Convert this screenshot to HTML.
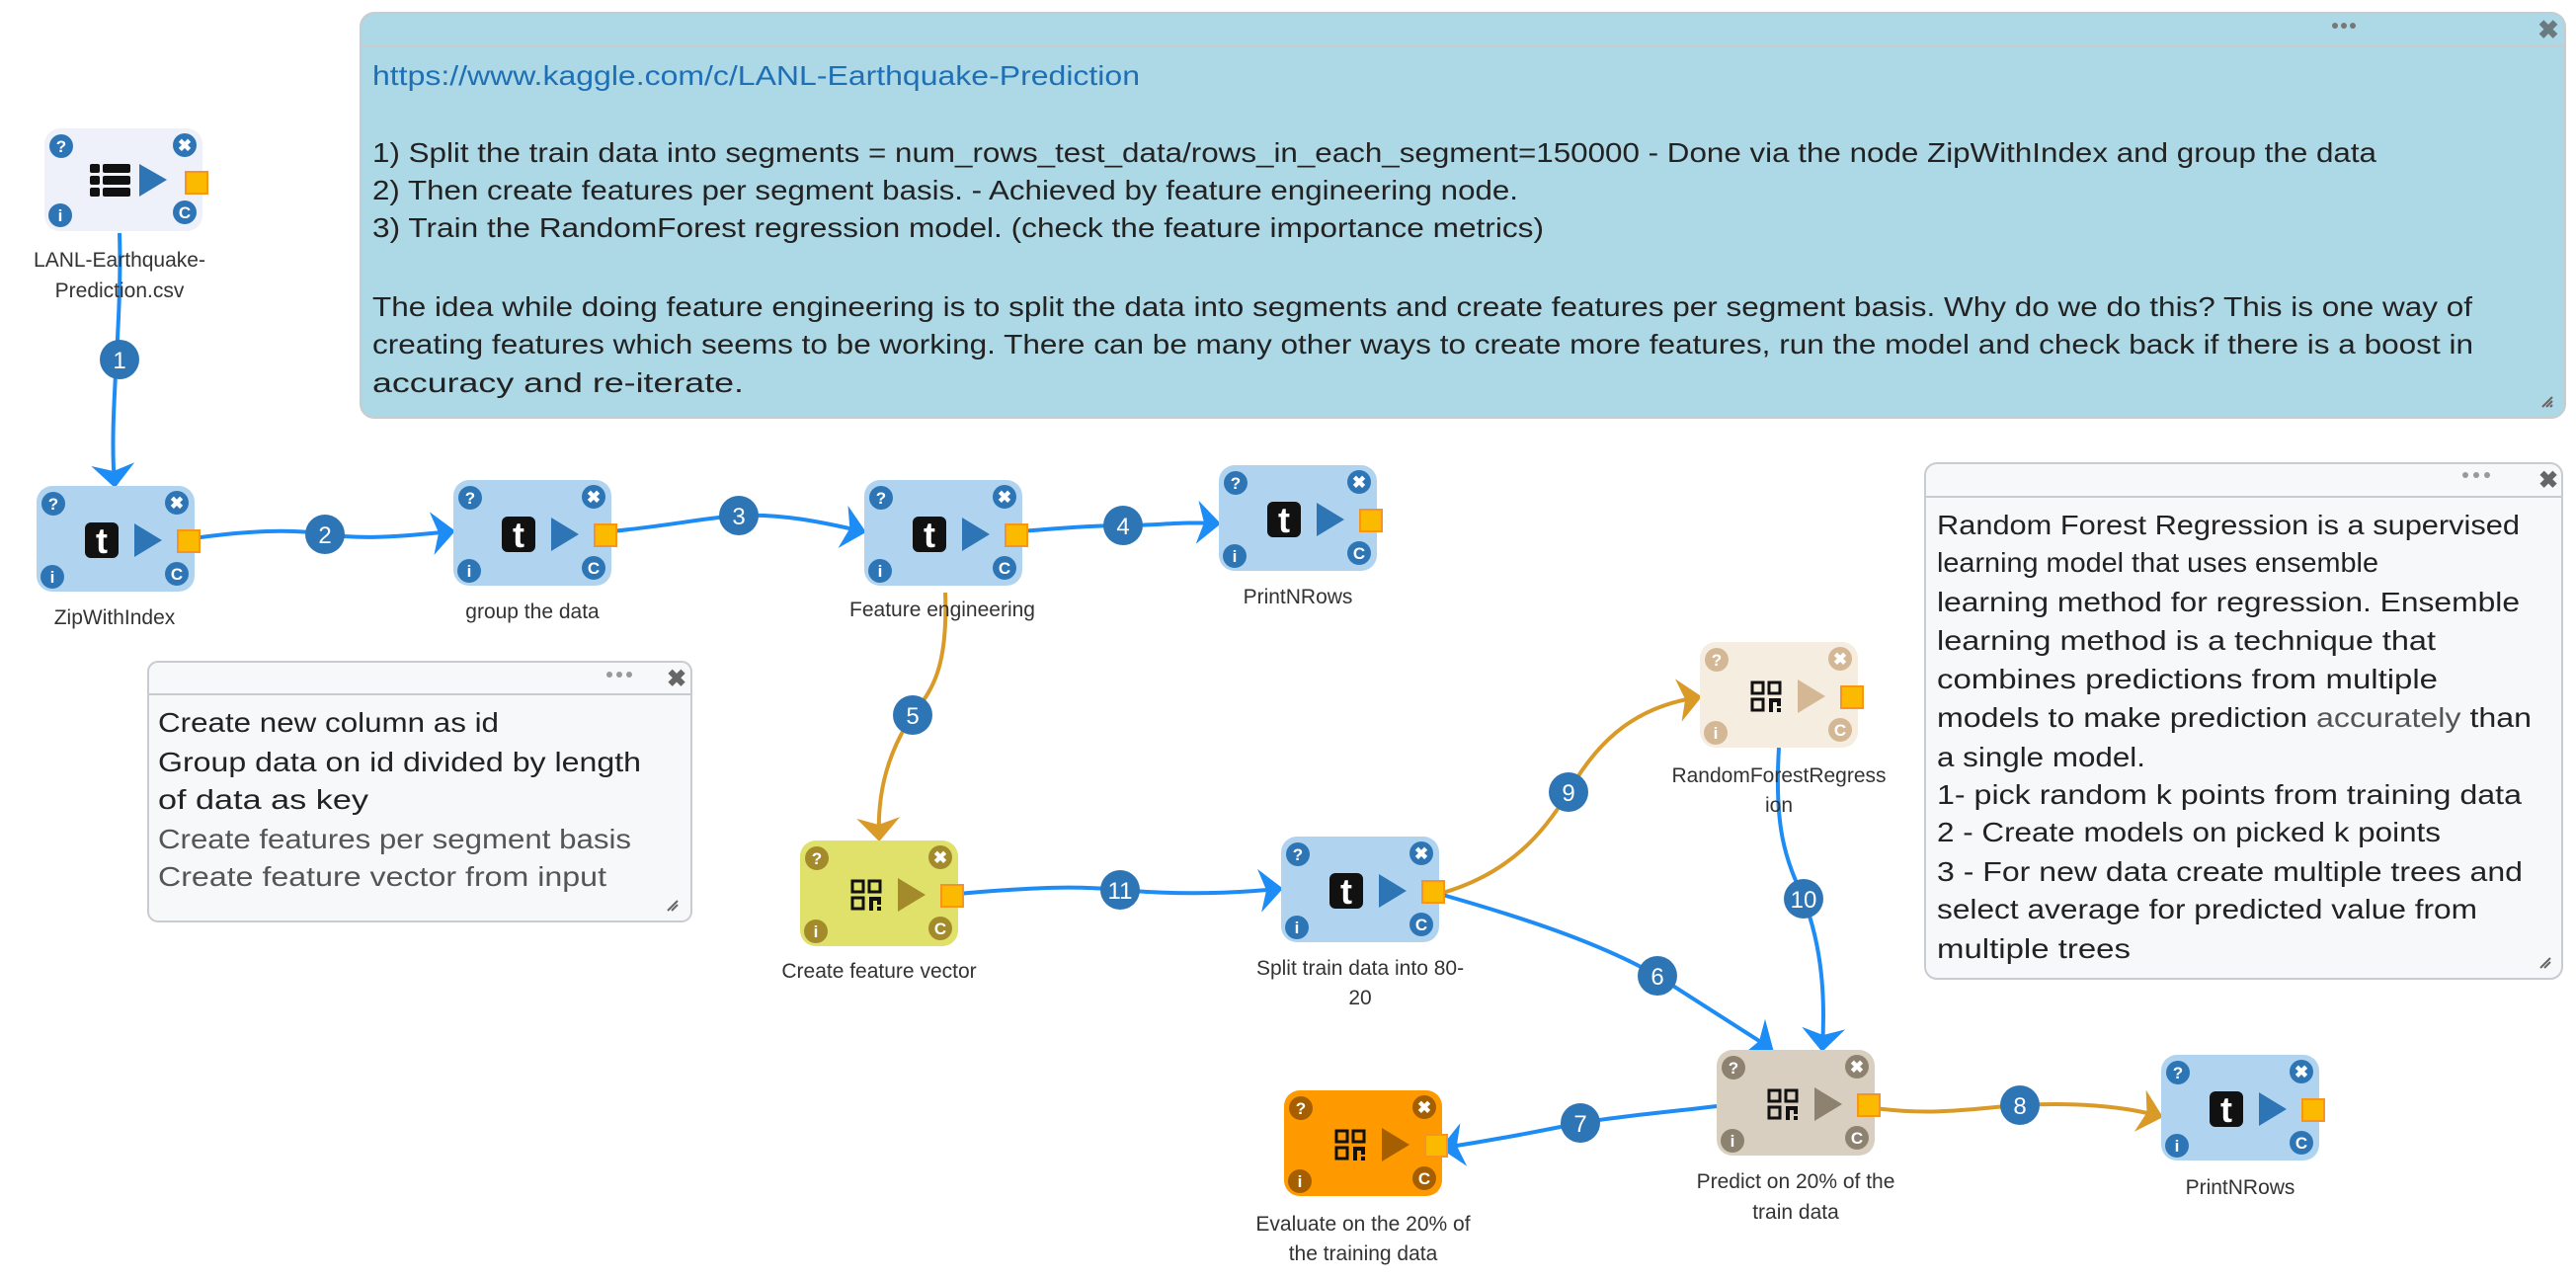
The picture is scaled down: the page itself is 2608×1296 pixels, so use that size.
<!DOCTYPE html>
<html><head><meta charset="utf-8"><style>
html,body{margin:0;padding:0;background:#fff;width:2608px;height:1296px;overflow:hidden}
svg{display:block;font-family:"Liberation Sans",sans-serif}
.lbl{font-size:21px;fill:#333;text-anchor:middle}
.ct{font-size:28px;fill:#222}
.ic{font-size:17px;fill:#fff;font-weight:bold;text-anchor:middle}
.bd{font-size:24px;fill:#fff;text-anchor:middle}
</style></head><body>
<svg width="2608" height="1296" viewBox="0 0 2608 1296" xmlns="http://www.w3.org/2000/svg">
<defs>
<marker id="ab" markerUnits="userSpaceOnUse" markerWidth="24" markerHeight="44" refX="20" refY="22" orient="auto"><path d="M0,0 L24,22 L0,44 L7,22 z" fill="#1e8cf5"/></marker>
<marker id="ag" markerUnits="userSpaceOnUse" markerWidth="24" markerHeight="44" refX="20" refY="22" orient="auto"><path d="M0,0 L24,22 L0,44 L7,22 z" fill="#d99a27"/></marker>
</defs>

<!-- Top comment -->
<rect x="365" y="13" width="2232" height="410" rx="14" fill="#add8e6" stroke="#c8ccd0" stroke-width="2"/>
<line x1="366" y1="47" x2="2596" y2="47" stroke="#c8ccd0" stroke-width="2"/>
<circle cx="2364" cy="26" r="3" fill="#777"/><circle cx="2373" cy="26" r="3" fill="#777"/><circle cx="2382" cy="26" r="3" fill="#777"/>
<text x="2580" y="39" font-size="26" font-weight="bold" fill="#6b7a80" text-anchor="middle">✖</text>
<text class="ct" x="377" y="86" fill="#1f6fb5" style="fill:#1f6fb5" textLength="777" lengthAdjust="spacingAndGlyphs">https://www.kaggle.com/c/LANL-Earthquake-Prediction</text>
<text class="ct" x="377" y="164" textLength="2029" lengthAdjust="spacingAndGlyphs">1) Split the train data into segments = num_rows_test_data/rows_in_each_segment=150000 - Done via the node ZipWithIndex and group the data</text>
<text class="ct" x="377" y="202" textLength="1160" lengthAdjust="spacingAndGlyphs">2) Then create features per segment basis. - Achieved by feature engineering node.</text>
<text class="ct" x="377" y="240" textLength="1186" lengthAdjust="spacingAndGlyphs">3) Train the RandomForest regression model. (check the feature importance metrics)</text>
<text class="ct" x="377" y="320" textLength="2126" lengthAdjust="spacingAndGlyphs">The idea while doing feature engineering is to split the data into segments and create features per segment basis. Why do we do this? This is one way of</text>
<text class="ct" x="377" y="358" textLength="2127" lengthAdjust="spacingAndGlyphs">creating features which seems to be working. There can be many other ways to create more features, run the model and check back if there is a boost in</text>
<text class="ct" x="377" y="397" textLength="376" lengthAdjust="spacingAndGlyphs">accuracy and re-iterate.</text>
<path d="M2574,412 L2584,402 M2578,412 L2584,406 M2582,412 L2584,410" stroke="#666" stroke-width="2"/>

<!-- Left comment -->
<rect x="150" y="670" width="550" height="263" rx="10" fill="#f7f8fa" stroke="#c8ccd0" stroke-width="2"/>
<line x1="151" y1="703" x2="699" y2="703" stroke="#c8ccd0" stroke-width="2"/>
<circle cx="617" cy="683" r="3" fill="#999"/><circle cx="627" cy="683" r="3" fill="#999"/><circle cx="637" cy="683" r="3" fill="#999"/>
<text x="685" y="695" font-size="24" font-weight="bold" fill="#666" text-anchor="middle">✖</text>
<text class="ct" x="160" y="741" textLength="345" lengthAdjust="spacingAndGlyphs">Create new column as id</text>
<text class="ct" x="160" y="781" textLength="489" lengthAdjust="spacingAndGlyphs">Group data on id divided by length</text>
<text class="ct" x="160" y="819" textLength="213" lengthAdjust="spacingAndGlyphs">of data as key</text>
<text class="ct" x="160" y="859" style="fill:#555" textLength="479" lengthAdjust="spacingAndGlyphs">Create features per segment basis</text>
<text class="ct" x="160" y="897" style="fill:#555" textLength="454" lengthAdjust="spacingAndGlyphs">Create feature vector from input</text>
<path d="M676,922 L686,912 M680,922 L686,916" stroke="#666" stroke-width="2"/>

<!-- Right comment -->
<rect x="1949" y="469" width="645" height="522" rx="12" fill="#f7f8fa" stroke="#c8ccd0" stroke-width="2"/>
<line x1="1950" y1="503" x2="2593" y2="503" stroke="#c8ccd0" stroke-width="2"/>
<circle cx="2496" cy="481" r="3" fill="#999"/><circle cx="2507" cy="481" r="3" fill="#999"/><circle cx="2518" cy="481" r="3" fill="#999"/>
<text x="2580" y="494" font-size="24" font-weight="bold" fill="#666" text-anchor="middle">✖</text>
<g class="ct">
<text class="ct" x="1961" y="541" textLength="590" lengthAdjust="spacingAndGlyphs">Random Forest Regression is a supervised</text>
<text class="ct" x="1961" y="579" textLength="447" lengthAdjust="spacingAndGlyphs">learning model that uses ensemble</text>
<text class="ct" x="1961" y="619" textLength="590" lengthAdjust="spacingAndGlyphs">learning method for regression. Ensemble</text>
<text class="ct" x="1961" y="658" textLength="505" lengthAdjust="spacingAndGlyphs">learning method is a technique that</text>
<text class="ct" x="1961" y="697" textLength="507" lengthAdjust="spacingAndGlyphs">combines predictions from multiple</text>
<text class="ct" x="1961" y="736" textLength="602" lengthAdjust="spacingAndGlyphs">models to make prediction <tspan style="fill:#555">accurately</tspan> than</text>
<text class="ct" x="1961" y="776" textLength="211" lengthAdjust="spacingAndGlyphs">a single model.</text>
<text class="ct" x="1961" y="814" textLength="592" lengthAdjust="spacingAndGlyphs">1- pick random k points from training data</text>
<text class="ct" x="1961" y="852" textLength="510" lengthAdjust="spacingAndGlyphs">2 - Create models on picked k points</text>
<text class="ct" x="1961" y="892" textLength="593" lengthAdjust="spacingAndGlyphs">3 - For new data create multiple trees and</text>
<text class="ct" x="1961" y="930" textLength="547" lengthAdjust="spacingAndGlyphs">select average for predicted value from</text>
<text class="ct" x="1961" y="970" textLength="196" lengthAdjust="spacingAndGlyphs">multiple trees</text>
</g>
<path d="M2572,980 L2582,970 M2576,980 L2582,974" stroke="#666" stroke-width="2"/>

<!-- Edges -->
<g fill="none" stroke-width="4">
<path d="M121,236 C124,330 110,420 116,490" stroke="#1e8cf5" marker-end="url(#ab)"/>
<path d="M196,545 C260,536 300,536 329,541 C365,546 400,544 457,538" stroke="#1e8cf5" marker-end="url(#ab)"/>
<path d="M619,538 C680,532 715,524 748,522 C790,520 830,528 873,538" stroke="#1e8cf5" marker-end="url(#ab)"/>
<path d="M1034,538 C1080,534 1110,532 1137,532 C1170,532 1200,528 1232,530" stroke="#1e8cf5" marker-end="url(#ab)"/>
<path d="M957,600 C960,680 942,700 924,724 C900,760 888,800 890,848" stroke="#d99a27" marker-end="url(#ag)"/>
<path d="M970,905 C1050,898 1090,897 1134,901 C1180,905 1230,906 1295,900" stroke="#1e8cf5" marker-end="url(#ab)"/>
<path d="M1457,905 C1530,885 1565,840 1588,802 C1620,745 1660,715 1719,706" stroke="#d99a27" marker-end="url(#ag)"/>
<path d="M1801,757 C1796,840 1808,870 1826,910 C1845,960 1848,1010 1845,1061" stroke="#1e8cf5" marker-end="url(#ab)"/>
<path d="M1457,905 C1545,930 1620,955 1678,988 L1792,1061" stroke="#1e8cf5" marker-end="url(#ab)"/>
<path d="M1738,1120 C1680,1127 1640,1130 1600,1137 C1560,1145 1520,1153 1462,1162" stroke="#1e8cf5" marker-end="url(#ab)"/>
<path d="M1898,1122 C1960,1130 2000,1122 2045,1119 C2100,1116 2150,1120 2186,1130" stroke="#d99a27" marker-end="url(#ag)"/>
</g>

<!-- Badges -->
<g fill="#2e75b6">
<circle cx="121" cy="364" r="20"/><circle cx="329" cy="541" r="20"/><circle cx="748" cy="522" r="20"/><circle cx="1137" cy="532" r="20"/>
<circle cx="924" cy="724" r="20"/><circle cx="1134" cy="901" r="20"/><circle cx="1588" cy="802" r="20"/><circle cx="1826" cy="910" r="20"/>
<circle cx="1678" cy="988" r="20"/><circle cx="1600" cy="1137" r="20"/><circle cx="2045" cy="1119" r="20"/>
</g>
<text class="bd" x="121" y="373">1</text><text class="bd" x="329" y="550">2</text><text class="bd" x="748" y="531">3</text><text class="bd" x="1137" y="541">4</text>
<text class="bd" x="924" y="733">5</text><text class="bd" x="1134" y="910">11</text><text class="bd" x="1588" y="811">9</text><text class="bd" x="1826" y="919">10</text>
<text class="bd" x="1678" y="997">6</text><text class="bd" x="1600" y="1146">7</text><text class="bd" x="2045" y="1128">8</text>

<!-- Nodes -->
<!-- LANL -->
<g transform="translate(45,130)">
<rect width="160" height="104" rx="16" fill="#eef0fa"/>
<circle cx="17" cy="18" r="12" fill="#2e75b6"/><text class="ic" x="17" y="24">?</text>
<circle cx="142" cy="17" r="12" fill="#2e75b6"/><text class="ic" x="142" y="23" font-size="14">✖</text>
<circle cx="16" cy="88" r="12" fill="#2e75b6"/><text class="ic" x="16" y="94">i</text>
<circle cx="142" cy="85" r="12" fill="#2e75b6"/><text class="ic" x="142" y="91">C</text>
<g fill="#111"><rect x="46" y="36" width="10" height="9" rx="2"/><rect x="59" y="36" width="28" height="9" rx="2"/><rect x="46" y="48" width="10" height="9" rx="2"/><rect x="59" y="48" width="28" height="9" rx="2"/><rect x="46" y="60" width="10" height="9" rx="2"/><rect x="59" y="60" width="28" height="9" rx="2"/></g>
<polygon points="96,36 124,52 96,69" fill="#2e75b6"/>
<rect x="143" y="44" width="22" height="22" fill="#fbb900" stroke="#f7941d" stroke-width="2"/>
</g>
<text class="lbl" x="121" y="270">LANL-Earthquake-</text><text class="lbl" x="121" y="301">Prediction.csv</text>

<!-- t nodes (blue) -->
<g transform="translate(37,492)">
<rect width="160" height="107" rx="16" fill="#b0d4ef"/>
<circle cx="17" cy="18" r="12" fill="#2e75b6"/><text class="ic" x="17" y="24">?</text>
<circle cx="142" cy="17" r="12" fill="#2e75b6"/><text class="ic" x="142" y="23" font-size="14">✖</text>
<circle cx="16" cy="92" r="12" fill="#2e75b6"/><text class="ic" x="16" y="98">i</text>
<circle cx="142" cy="89" r="12" fill="#2e75b6"/><text class="ic" x="142" y="95">C</text>
<rect x="49" y="37" width="34" height="36" rx="6" fill="#111"/><text x="66" y="68" font-size="36" font-weight="bold" fill="#fff" text-anchor="middle">t</text>
<polygon points="99,38 127,55 99,72" fill="#2e75b6"/>
<rect x="143" y="45" width="22" height="22" fill="#fbb900" stroke="#f7941d" stroke-width="2"/>
</g>
<text class="lbl" x="116" y="632">ZipWithIndex</text>

<g transform="translate(459,486)">
<rect width="160" height="107" rx="16" fill="#b0d4ef"/>
<circle cx="17" cy="18" r="12" fill="#2e75b6"/><text class="ic" x="17" y="24">?</text>
<circle cx="142" cy="17" r="12" fill="#2e75b6"/><text class="ic" x="142" y="23" font-size="14">✖</text>
<circle cx="16" cy="92" r="12" fill="#2e75b6"/><text class="ic" x="16" y="98">i</text>
<circle cx="142" cy="89" r="12" fill="#2e75b6"/><text class="ic" x="142" y="95">C</text>
<rect x="49" y="37" width="34" height="36" rx="6" fill="#111"/><text x="66" y="68" font-size="36" font-weight="bold" fill="#fff" text-anchor="middle">t</text>
<polygon points="99,38 127,55 99,72" fill="#2e75b6"/>
<rect x="143" y="45" width="22" height="22" fill="#fbb900" stroke="#f7941d" stroke-width="2"/>
</g>
<text class="lbl" x="539" y="626">group the data</text>

<g transform="translate(875,486)">
<rect width="160" height="107" rx="16" fill="#b0d4ef"/>
<circle cx="17" cy="18" r="12" fill="#2e75b6"/><text class="ic" x="17" y="24">?</text>
<circle cx="142" cy="17" r="12" fill="#2e75b6"/><text class="ic" x="142" y="23" font-size="14">✖</text>
<circle cx="16" cy="92" r="12" fill="#2e75b6"/><text class="ic" x="16" y="98">i</text>
<circle cx="142" cy="89" r="12" fill="#2e75b6"/><text class="ic" x="142" y="95">C</text>
<rect x="49" y="37" width="34" height="36" rx="6" fill="#111"/><text x="66" y="68" font-size="36" font-weight="bold" fill="#fff" text-anchor="middle">t</text>
<polygon points="99,38 127,55 99,72" fill="#2e75b6"/>
<rect x="143" y="45" width="22" height="22" fill="#fbb900" stroke="#f7941d" stroke-width="2"/>
</g>
<text class="lbl" x="954" y="624">Feature engineering</text>

<g transform="translate(1234,471)">
<rect width="160" height="107" rx="16" fill="#b0d4ef"/>
<circle cx="17" cy="18" r="12" fill="#2e75b6"/><text class="ic" x="17" y="24">?</text>
<circle cx="142" cy="17" r="12" fill="#2e75b6"/><text class="ic" x="142" y="23" font-size="14">✖</text>
<circle cx="16" cy="92" r="12" fill="#2e75b6"/><text class="ic" x="16" y="98">i</text>
<circle cx="142" cy="89" r="12" fill="#2e75b6"/><text class="ic" x="142" y="95">C</text>
<rect x="49" y="37" width="34" height="36" rx="6" fill="#111"/><text x="66" y="68" font-size="36" font-weight="bold" fill="#fff" text-anchor="middle">t</text>
<polygon points="99,38 127,55 99,72" fill="#2e75b6"/>
<rect x="143" y="45" width="22" height="22" fill="#fbb900" stroke="#f7941d" stroke-width="2"/>
</g>
<text class="lbl" x="1314" y="611">PrintNRows</text>

<g transform="translate(1297,847)">
<rect width="160" height="107" rx="16" fill="#b0d4ef"/>
<circle cx="17" cy="18" r="12" fill="#2e75b6"/><text class="ic" x="17" y="24">?</text>
<circle cx="142" cy="17" r="12" fill="#2e75b6"/><text class="ic" x="142" y="23" font-size="14">✖</text>
<circle cx="16" cy="92" r="12" fill="#2e75b6"/><text class="ic" x="16" y="98">i</text>
<circle cx="142" cy="89" r="12" fill="#2e75b6"/><text class="ic" x="142" y="95">C</text>
<rect x="49" y="37" width="34" height="36" rx="6" fill="#111"/><text x="66" y="68" font-size="36" font-weight="bold" fill="#fff" text-anchor="middle">t</text>
<polygon points="99,38 127,55 99,72" fill="#2e75b6"/>
<rect x="143" y="45" width="22" height="22" fill="#fbb900" stroke="#f7941d" stroke-width="2"/>
</g>
<text class="lbl" x="1377" y="987">Split train data into 80-</text><text class="lbl" x="1377" y="1017">20</text>

<g transform="translate(2188,1068)">
<rect width="160" height="107" rx="16" fill="#b0d4ef"/>
<circle cx="17" cy="18" r="12" fill="#2e75b6"/><text class="ic" x="17" y="24">?</text>
<circle cx="142" cy="17" r="12" fill="#2e75b6"/><text class="ic" x="142" y="23" font-size="14">✖</text>
<circle cx="16" cy="92" r="12" fill="#2e75b6"/><text class="ic" x="16" y="98">i</text>
<circle cx="142" cy="89" r="12" fill="#2e75b6"/><text class="ic" x="142" y="95">C</text>
<rect x="49" y="37" width="34" height="36" rx="6" fill="#111"/><text x="66" y="68" font-size="36" font-weight="bold" fill="#fff" text-anchor="middle">t</text>
<polygon points="99,38 127,55 99,72" fill="#2e75b6"/>
<rect x="143" y="45" width="22" height="22" fill="#fbb900" stroke="#f7941d" stroke-width="2"/>
</g>
<text class="lbl" x="2268" y="1209">PrintNRows</text>

<!-- QR nodes -->
<g transform="translate(810,851)">
<rect width="160" height="107" rx="16" fill="#dfe16a"/>
<circle cx="17" cy="18" r="12" fill="#a38b2b"/><text class="ic" x="17" y="24">?</text>
<circle cx="142" cy="17" r="12" fill="#a38b2b"/><text class="ic" x="142" y="23" font-size="14">✖</text>
<circle cx="16" cy="92" r="12" fill="#a38b2b"/><text class="ic" x="16" y="98">i</text>
<circle cx="142" cy="89" r="12" fill="#a38b2b"/><text class="ic" x="142" y="95">C</text>
<g fill="none" stroke="#111" stroke-width="3"><rect x="53" y="41" width="11" height="11"/><rect x="70" y="41" width="11" height="11"/><rect x="53" y="58" width="11" height="11"/></g>
<g fill="#111"><rect x="70" y="57" width="4" height="14"/><rect x="74" y="57" width="8" height="4"/><rect x="78" y="61" width="4" height="4"/><rect x="78" y="67" width="4" height="4"/></g>
<polygon points="99,38 127,55 99,72" fill="#a38b2b"/>
<rect x="143" y="45" width="22" height="22" fill="#fbb900" stroke="#f7941d" stroke-width="2"/>
</g>
<text class="lbl" x="890" y="990">Create feature vector</text>

<g transform="translate(1721,650)">
<rect width="160" height="107" rx="16" fill="#f5ede0"/>
<circle cx="17" cy="18" r="12" fill="#d4b896"/><text class="ic" x="17" y="24">?</text>
<circle cx="142" cy="17" r="12" fill="#d4b896"/><text class="ic" x="142" y="23" font-size="14">✖</text>
<circle cx="16" cy="92" r="12" fill="#d4b896"/><text class="ic" x="16" y="98">i</text>
<circle cx="142" cy="89" r="12" fill="#d4b896"/><text class="ic" x="142" y="95">C</text>
<g fill="none" stroke="#111" stroke-width="3"><rect x="53" y="41" width="11" height="11"/><rect x="70" y="41" width="11" height="11"/><rect x="53" y="58" width="11" height="11"/></g>
<g fill="#111"><rect x="70" y="57" width="4" height="14"/><rect x="74" y="57" width="8" height="4"/><rect x="78" y="61" width="4" height="4"/><rect x="78" y="67" width="4" height="4"/></g>
<polygon points="99,38 127,55 99,72" fill="#d4b896"/>
<rect x="143" y="45" width="22" height="22" fill="#fbb900" stroke="#f7941d" stroke-width="2"/>
</g>
<text class="lbl" x="1801" y="792">RandomForestRegress</text><text class="lbl" x="1801" y="822">ion</text>

<g transform="translate(1738,1063)">
<rect width="160" height="107" rx="16" fill="#d8cfc0"/>
<circle cx="17" cy="18" r="12" fill="#8d8270"/><text class="ic" x="17" y="24">?</text>
<circle cx="142" cy="17" r="12" fill="#8d8270"/><text class="ic" x="142" y="23" font-size="14">✖</text>
<circle cx="16" cy="92" r="12" fill="#8d8270"/><text class="ic" x="16" y="98">i</text>
<circle cx="142" cy="89" r="12" fill="#8d8270"/><text class="ic" x="142" y="95">C</text>
<g fill="none" stroke="#111" stroke-width="3"><rect x="53" y="41" width="11" height="11"/><rect x="70" y="41" width="11" height="11"/><rect x="53" y="58" width="11" height="11"/></g>
<g fill="#111"><rect x="70" y="57" width="4" height="14"/><rect x="74" y="57" width="8" height="4"/><rect x="78" y="61" width="4" height="4"/><rect x="78" y="67" width="4" height="4"/></g>
<polygon points="99,38 127,55 99,72" fill="#8d8270"/>
<rect x="143" y="45" width="22" height="22" fill="#fbb900" stroke="#f7941d" stroke-width="2"/>
</g>
<text class="lbl" x="1818" y="1203">Predict on 20% of the</text><text class="lbl" x="1818" y="1234">train data</text>

<g transform="translate(1300,1104)">
<rect width="160" height="107" rx="16" fill="#ff9900"/>
<circle cx="17" cy="18" r="12" fill="#a65f00"/><text class="ic" x="17" y="24">?</text>
<circle cx="142" cy="17" r="12" fill="#a65f00"/><text class="ic" x="142" y="23" font-size="14">✖</text>
<circle cx="16" cy="92" r="12" fill="#a65f00"/><text class="ic" x="16" y="98">i</text>
<circle cx="142" cy="89" r="12" fill="#a65f00"/><text class="ic" x="142" y="95">C</text>
<g fill="none" stroke="#111" stroke-width="3"><rect x="53" y="41" width="11" height="11"/><rect x="70" y="41" width="11" height="11"/><rect x="53" y="58" width="11" height="11"/></g>
<g fill="#111"><rect x="70" y="57" width="4" height="14"/><rect x="74" y="57" width="8" height="4"/><rect x="78" y="61" width="4" height="4"/><rect x="78" y="67" width="4" height="4"/></g>
<polygon points="99,38 127,55 99,72" fill="#a65f00"/>
<rect x="143" y="45" width="22" height="22" fill="#fbb900" stroke="#f7941d" stroke-width="2"/>
</g>
<text class="lbl" x="1380" y="1246">Evaluate on the 20% of</text><text class="lbl" x="1380" y="1276">the training data</text>
</svg>
</body></html>
